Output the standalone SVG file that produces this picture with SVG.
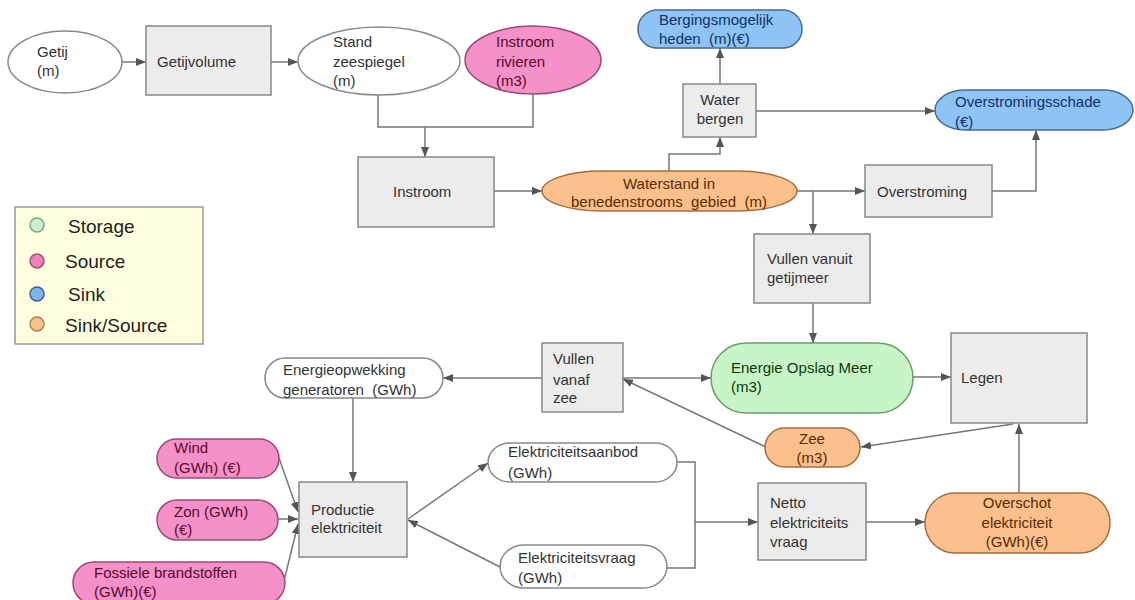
<svg xmlns="http://www.w3.org/2000/svg" width="1135" height="600" viewBox="0 0 1135 600">
<style>
text{font-family:"Liberation Sans",Arial,sans-serif;font-size:15px;fill:#333;white-space:pre}
.box{fill:#ececec;stroke:#888;stroke-width:1.5}
.wht{fill:#fff;stroke:#888;stroke-width:1.5}
.pink{fill:#f590c8;stroke:#9a4a70;stroke-width:1.5}
.blue{fill:#8ec3f5;stroke:#4a6a90;stroke-width:1.5}
.orng{fill:#fbc08c;stroke:#a07040;stroke-width:1.5}
.grn{fill:#c8f5c8;stroke:#6a9a6a;stroke-width:1.5}
.tp{fill:#5a0a2a}
.tb{fill:#10306a}
.to{fill:#5a2a00}
.tg{fill:#0a3a0a}
.c{text-anchor:middle}
.lg{font-size:19px;fill:#222}
#connectors path{fill:none;stroke:#777;stroke-width:1.5}
#connectors .a{marker-end:url(#ah)}
</style>
<defs>
<marker id="ah" markerUnits="userSpaceOnUse" markerWidth="10" markerHeight="8" refX="10" refY="4" orient="auto">
<path d="M0,0 L10,4 L0,8 z" fill="#555"/>
</marker>
</defs>
<rect width="1135" height="600" fill="#fff"/>

<g id="connectors">
<path class="a" d="M122,62 H146"/>
<path class="a" d="M271,62 H298"/>
<path d="M378,94 V127 H533 V94"/>
<path class="a" d="M425,127 V157"/>
<path class="a" d="M494,191 H542"/>
<path class="a" d="M669,171 V154 H720 V137"/>
<path class="a" d="M720,84 V48"/>
<path class="a" d="M756,111 H935"/>
<path class="a" d="M797,191 H865"/>
<path class="a" d="M813,191 V234"/>
<path class="a" d="M992,191 H1036 V130"/>
<path class="a" d="M813,303 V343"/>
<path class="a" d="M913,377 H951"/>
<path class="a" d="M1013,424 L861,447"/>
<path class="a" d="M766,447 L623,379"/>
<path class="a" d="M623,378 H711"/>
<path class="a" d="M542,378 H443"/>
<path class="a" d="M353,398 V482"/>
<path class="a" d="M279,458 L298,512"/>
<path class="a" d="M278,519 H298"/>
<path class="a" d="M285,577 L298,524"/>
<path class="a" d="M408,519 L488,463"/>
<path class="a" d="M500,567 L408,520"/>
<path d="M677,462 H695 V568 H667"/>
<path class="a" d="M695,522 H758"/>
<path class="a" d="M866,522 H925"/>
<path class="a" d="M1019,493 V424"/>
</g>

<g id="getij"><ellipse class="wht" cx="65" cy="62" rx="57" ry="31"/><text x="37" y="57">Getij</text><text x="37" y="76">(m)</text></g>
<g id="getijvolume"><rect class="box" x="146" y="26" width="125" height="69"/><text x="157" y="67">Getijvolume</text></g>
<g id="stand"><ellipse class="wht" cx="379" cy="61" rx="81" ry="34"/><text x="333" y="47">Stand</text><text x="333" y="67">zeespiegel</text><text x="333" y="86">(m)</text></g>
<g id="rivieren"><ellipse class="pink" cx="533" cy="60" rx="68" ry="34"/><text class="tp" x="496" y="47">Instroom</text><text class="tp" x="496" y="67">rivieren</text><text class="tp" x="496" y="86">(m3)</text></g>
<g id="instroom"><rect class="box" x="358" y="157" width="136" height="70"/><text x="393" y="197">Instroom</text></g>
<g id="waterstand"><rect class="orng" x="542" y="171" width="255" height="40" rx="60" ry="20"/><text class="to c" x="669" y="189">Waterstand in</text><text class="to c" x="669" y="207">benedenstrooms  gebied  (m)</text></g>
<g id="waterbergen"><rect class="box" x="683" y="84" width="73" height="53"/><text class="c" x="720" y="105">Water</text><text class="c" x="720" y="124">bergen</text></g>
<g id="berging"><rect class="blue" x="638" y="10" width="164" height="38" rx="19"/><text class="tb" x="659" y="25">Bergingsmogelijk</text><text class="tb" x="659" y="44">heden  (m)(€)</text></g>
<g id="schade"><rect class="blue" x="935" y="90" width="198" height="40" rx="30" ry="20"/><text class="tb" x="955" y="107">Overstromingsschade</text><text class="tb" x="955" y="127">(€)</text></g>
<g id="overstroming"><rect class="box" x="865" y="165" width="127" height="52"/><text x="877" y="197">Overstroming</text></g>
<g id="vullengetij"><rect class="box" x="754" y="234" width="116" height="69"/><text x="767" y="264">Vullen vanuit</text><text x="767" y="283">getijmeer</text></g>
<g id="energie"><rect class="grn" x="711" y="343" width="202" height="70" rx="35"/><text class="tg" x="731" y="373">Energie Opslag Meer</text><text class="tg" x="731" y="392">(m3)</text></g>
<g id="legen"><rect class="box" x="951" y="333" width="136" height="90"/><text x="961" y="383">Legen</text></g>
<g id="zee"><rect class="orng" x="765" y="428" width="95" height="39" rx="19.5"/><text class="to c" x="812" y="444">Zee</text><text class="to c" x="812" y="463">(m3)</text></g>
<g id="vullenzee"><rect class="box" x="542" y="343" width="81" height="69"/><text x="553" y="364">Vullen</text><text x="553" y="385">vanaf</text><text x="553" y="403">zee</text></g>
<g id="energieopwekking"><rect class="wht" x="265" y="358" width="178" height="40" rx="20"/><text x="283" y="375">Energieopwekking</text><text x="283" y="395">generatoren  (GWh)</text></g>
<g id="wind"><rect class="pink" x="157" y="439" width="122" height="39" rx="19.5"/><text class="tp" x="174" y="453">Wind</text><text class="tp" x="174" y="473">(GWh) (€)</text></g>
<g id="zon"><rect class="pink" x="157" y="500" width="121" height="40" rx="20"/><text class="tp" x="174" y="517">Zon (GWh)</text><text class="tp" x="174" y="535">(€)</text></g>
<g id="fossiel"><rect class="pink" x="73" y="562" width="212" height="42" rx="21"/><text class="tp" x="94" y="578">Fossiele brandstoffen</text><text class="tp" x="94" y="597">(GWh)(€)</text></g>
<g id="productie"><rect class="box" x="299" y="482" width="108" height="75"/><text x="311" y="515">Productie</text><text x="311" y="533">elektriciteit</text></g>
<g id="aanbod"><rect class="wht" x="488" y="443" width="189" height="39" rx="22" ry="19.5"/><text x="508" y="457">Elektriciteitsaanbod</text><text x="508" y="478">(GWh)</text></g>
<g id="vraag"><rect class="wht" x="500" y="545" width="167" height="43" rx="24" ry="21.5"/><text x="518" y="563">Elektriciteitsvraag</text><text x="518" y="583">(GWh)</text></g>
<g id="netto"><rect class="box" x="758" y="483" width="108" height="77"/><text x="770" y="508">Netto</text><text x="770" y="528">elektriciteits</text><text x="770" y="547">vraag</text></g>
<g id="overschot"><rect class="orng" x="925" y="493" width="185" height="60" rx="30"/><text class="to c" x="1017" y="508">Overschot</text><text class="to c" x="1017" y="528">elektriciteit</text><text class="to c" x="1017" y="547">(GWh)(€)</text></g>

<g id="legend">
<rect x="15" y="207" width="188" height="137" fill="#ffffe0" stroke="#999" stroke-width="1.5"/>
<circle cx="37" cy="225" r="7" fill="#c8f0d0" stroke="#7aa88a" stroke-width="1.5"/>
<circle cx="37" cy="261" r="7" fill="#f080b8" stroke="#a05078" stroke-width="1.5"/>
<circle cx="37" cy="294" r="7" fill="#80b4f0" stroke="#40608a" stroke-width="1.5"/>
<circle cx="37" cy="324" r="7" fill="#f8c090" stroke="#b08050" stroke-width="1.5"/>
<text class="lg" x="68" y="233">Storage</text>
<text class="lg" x="65" y="268">Source</text>
<text class="lg" x="68" y="301">Sink</text>
<text class="lg" x="65" y="332">Sink/Source</text>
</g>
</svg>
